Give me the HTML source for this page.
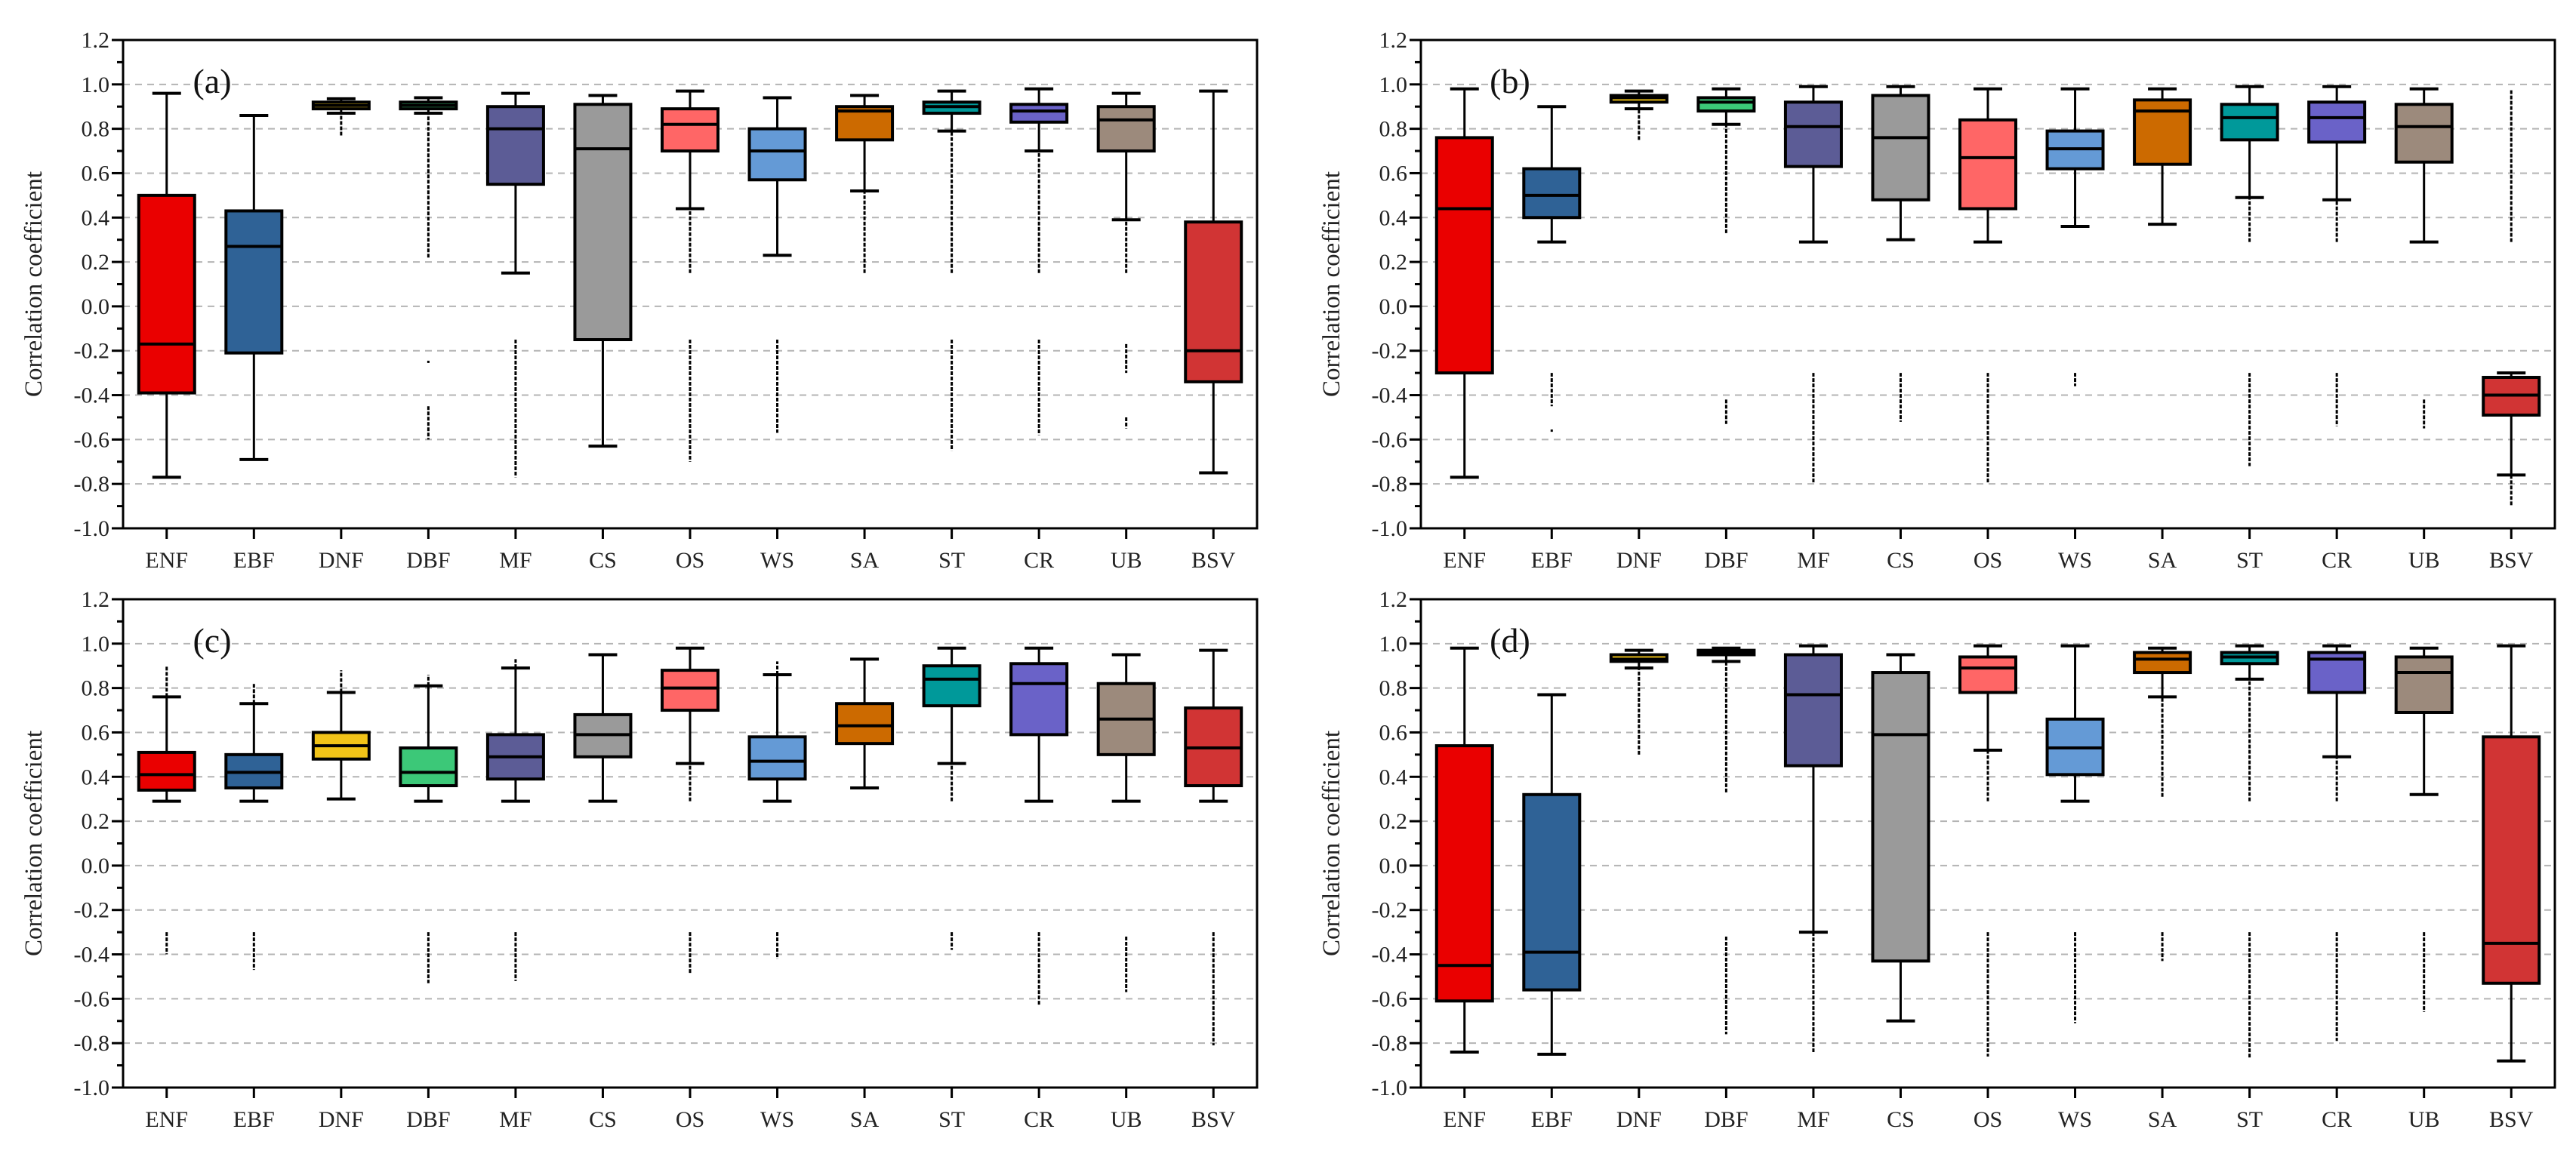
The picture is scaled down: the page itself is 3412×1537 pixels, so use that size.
<!DOCTYPE html>
<html><head><meta charset="utf-8">
<style>
html,body{margin:0;padding:0;background:#fff;}
svg{display:block;font-family:"Liberation Serif","DejaVu Serif",serif;}
</style></head>
<body>
<svg id="chart" width="3412" height="1537" viewBox="0 0 3412 1537" xmlns="http://www.w3.org/2000/svg"></svg>
<script>
const categories = ["ENF","EBF","DNF","DBF","MF","CS","OS","WS","SA","ST","CR","UB","BSV"];
const colors = ["#ea0000","#2f6296","#f2c418","#3cc878","#5c5c96","#9a9a9a","#ff6666","#649ad6","#cc6a00","#00999a","#6a62c8","#9c8a7c","#d13434"];
const yTicks = [1.2,1.0,0.8,0.6,0.4,0.2,0.0,-0.2,-0.4,-0.6,-0.8,-1.0];
const panelLabels = ["(a)","(b)","(c)","(d)"];
// each row: [whiskerLow, q1, median, q3, whiskerHigh]
const statsA = [[-0.77,-0.39,-0.17,0.50,0.96],[-0.69,-0.21,0.27,0.43,0.86],[0.87,0.89,0.905,0.92,0.935],[0.87,0.89,0.905,0.92,0.94],[0.15,0.55,0.80,0.90,0.96],[-0.63,-0.15,0.71,0.91,0.95],[0.44,0.70,0.82,0.89,0.97],[0.23,0.57,0.70,0.80,0.94],[0.52,0.75,0.88,0.90,0.95],[0.79,0.87,0.90,0.92,0.97],[0.70,0.83,0.88,0.91,0.98],[0.39,0.70,0.84,0.90,0.96],[-0.75,-0.34,-0.20,0.38,0.97]];
const statsB = [[-0.77,-0.30,0.44,0.76,0.98],[0.29,0.40,0.50,0.62,0.90],[0.89,0.92,0.94,0.95,0.97],[0.82,0.88,0.92,0.94,0.98],[0.29,0.63,0.81,0.92,0.99],[0.30,0.48,0.76,0.95,0.99],[0.29,0.44,0.67,0.84,0.98],[0.36,0.62,0.71,0.79,0.98],[0.37,0.64,0.88,0.93,0.98],[0.49,0.75,0.85,0.91,0.99],[0.48,0.74,0.85,0.92,0.99],[0.29,0.65,0.81,0.91,0.98],[-0.76,-0.49,-0.40,-0.32,-0.30]];
const statsC = [[0.29,0.34,0.41,0.51,0.76],[0.29,0.35,0.42,0.50,0.73],[0.30,0.48,0.54,0.60,0.78],[0.29,0.36,0.42,0.53,0.81],[0.29,0.39,0.49,0.59,0.89],[0.29,0.49,0.59,0.68,0.95],[0.46,0.70,0.80,0.88,0.98],[0.29,0.39,0.47,0.58,0.86],[0.35,0.55,0.63,0.73,0.93],[0.46,0.72,0.84,0.90,0.98],[0.29,0.59,0.82,0.91,0.98],[0.29,0.50,0.66,0.82,0.95],[0.29,0.36,0.53,0.71,0.97]];
const statsD = [[-0.84,-0.61,-0.45,0.54,0.98],[-0.85,-0.56,-0.39,0.32,0.77],[0.89,0.92,0.93,0.95,0.97],[0.92,0.95,0.96,0.97,0.98],[-0.30,0.45,0.77,0.95,0.99],[-0.70,-0.43,0.59,0.87,0.95],[0.52,0.78,0.89,0.94,0.99],[0.29,0.41,0.53,0.66,0.99],[0.76,0.87,0.93,0.96,0.98],[0.84,0.91,0.94,0.96,0.99],[0.49,0.78,0.93,0.96,0.99],[0.32,0.69,0.87,0.94,0.98],[-0.88,-0.53,-0.35,0.58,0.99]];
// outlier ranges per category: list of [from, to]
const outA = [[],[],[[0.77,0.87]],[[0.22,0.87],[-0.25,-0.25],[-0.45,-0.60]],[[-0.15,-0.77]],[],[[0.15,0.44],[-0.15,-0.70]],[[-0.15,-0.57]],[[0.15,0.52]],[[0.15,0.79],[-0.15,-0.65]],[[0.15,0.70],[-0.15,-0.58]],[[0.15,0.39],[-0.17,-0.30],[-0.50,-0.55]],[]];
const outB = [[],[[-0.30,-0.45],[-0.56,-0.56]],[[0.75,0.89]],[[0.33,0.82],[-0.42,-0.53]],[[-0.30,-0.80]],[[-0.30,-0.52]],[[-0.30,-0.80]],[[-0.30,-0.36]],[],[[0.29,0.49],[-0.30,-0.72]],[[0.29,0.48],[-0.30,-0.54]],[[-0.42,-0.55]],[[0.29,0.98],[-0.76,-0.90]]];
const outC = [[[0.76,0.90],[-0.30,-0.40]],[[0.73,0.82],[-0.30,-0.47]],[[0.78,0.88]],[[0.81,0.86],[-0.30,-0.53]],[[0.89,0.93],[-0.30,-0.52]],[],[[0.29,0.46],[-0.30,-0.49]],[[0.86,0.92],[-0.30,-0.42]],[],[[0.29,0.46],[-0.30,-0.38]],[[-0.30,-0.63]],[[-0.32,-0.57]],[[-0.30,-0.81]]];
const outD = [[],[],[[0.50,0.89]],[[0.33,0.92],[-0.32,-0.76]],[[-0.30,-0.84]],[],[[0.29,0.52],[-0.30,-0.86]],[[-0.30,-0.71]],[[0.31,0.76],[-0.30,-0.43]],[[0.29,0.84],[-0.30,-0.87]],[[0.29,0.49],[-0.30,-0.79]],[[-0.30,-0.66]],[]];

const allStats=[statsA,statsB,statsC,statsD];
const allOut=[outA,outB,outC,outD];
const NS="http://www.w3.org/2000/svg";
const svg=document.getElementById('chart');
function mk(tag,attrs,parent){const e=document.createElementNS(NS,tag);for(const k in attrs)e.setAttribute(k,attrs[k]);(parent||svg).appendChild(e);return e;}

const panels=[{l:163,t:53,panel:'a'},{l:1882,t:53,panel:'b'},{l:163,t:794,panel:'c'},{l:1882,t:794,panel:'d'}];
const W=1502,H=647,yMin=-1.0,yMax=1.2;

panels.forEach((p,pi)=>{
  const g=mk('g',{});
  
  
  const y=v=>p.t+(yMax-v)/(yMax-yMin)*H;
  const step=W/13;
  const x=i=>p.l+step*(i+0.5);
  yTicks.forEach(v=>{
    if(v>1.1||v<-0.9)return;
    const gl=mk('line',{x1:p.l,x2:p.l+W,y1:y(v),y2:y(v),stroke:'#b4b4b4','stroke-width':2,'stroke-dasharray':'9 7'},g);
    
    
  });
  yTicks.forEach(v=>{
    mk('line',{x1:p.l-15,x2:p.l,y1:y(v),y2:y(v),stroke:'#000','stroke-width':3},g);
    const t=mk('text',{x:p.l-18,y:y(v)+10,'font-size':30,'text-anchor':'end',fill:'#222'},g);
    t.textContent=v.toFixed(1);
    
    
  });
  for(let k=0;k<11;k++){const v=yMax-0.1-0.2*k;mk('line',{x1:p.l-8,x2:p.l,y1:y(v),y2:y(v),stroke:'#000','stroke-width':3},g);}
  const yt=mk('text',{x:0,y:0,'font-size':33,'text-anchor':'middle',fill:'#222',transform:`translate(${p.l-108},${p.t+H/2}) rotate(-90)`},g);
  yt.textContent='Correlation coefficient';
  
  
  categories.forEach((c,i)=>{
    mk('line',{x1:x(i),x2:x(i),y1:p.t+H,y2:p.t+H+14,stroke:'#000','stroke-width':3},g);
    const t=mk('text',{x:x(i),y:p.t+H+52,'font-size':30,'text-anchor':'middle',fill:'#222'},g);
    t.textContent=c;
    
    
  });
  const st=allStats[pi], ou=allOut[pi];
  st.forEach((s,i)=>{
    const cx=x(i),hw=37,cw=19;
    const bg=mk('g',{},g);
    
    
    ou[i].forEach(r=>{
      const y1=y(r[0]),y2=y(r[1]);
      if(Math.abs(y1-y2)<2){mk('rect',{x:cx-1.5,y:y1-1.5,width:3,height:3,fill:'#000'},bg);}
      else mk('line',{x1:cx,x2:cx,y1:y1,y2:y2,stroke:'#000','stroke-width':3,'stroke-dasharray':'5 2'},bg);
    });
    mk('line',{x1:cx,x2:cx,y1:y(s[0]),y2:y(s[1]),stroke:'#000','stroke-width':3},bg);
    mk('line',{x1:cx,x2:cx,y1:y(s[3]),y2:y(s[4]),stroke:'#000','stroke-width':3},bg);
    mk('line',{x1:cx-cw,x2:cx+cw,y1:y(s[0]),y2:y(s[0]),stroke:'#000','stroke-width':4},bg);
    mk('line',{x1:cx-cw,x2:cx+cw,y1:y(s[4]),y2:y(s[4]),stroke:'#000','stroke-width':4},bg);
    mk('rect',{x:cx-hw,y:y(s[3]),width:2*hw,height:Math.max(1,y(s[1])-y(s[3])),fill:colors[i],stroke:'#000','stroke-width':4},bg);
    mk('line',{x1:cx-hw,x2:cx+hw,y1:y(s[2]),y2:y(s[2]),stroke:'#000','stroke-width':4},bg);
  });
  const fr=mk('rect',{x:p.l,y:p.t,width:W,height:H,fill:'none',stroke:'#000','stroke-width':3},g);
  
  
  const pl=mk('text',{x:p.l+118,y:p.t+70,'font-size':46,'text-anchor':'middle',fill:'#111'},g);
  pl.textContent=panelLabels[pi];
  
  
});
</script>
</body></html>
